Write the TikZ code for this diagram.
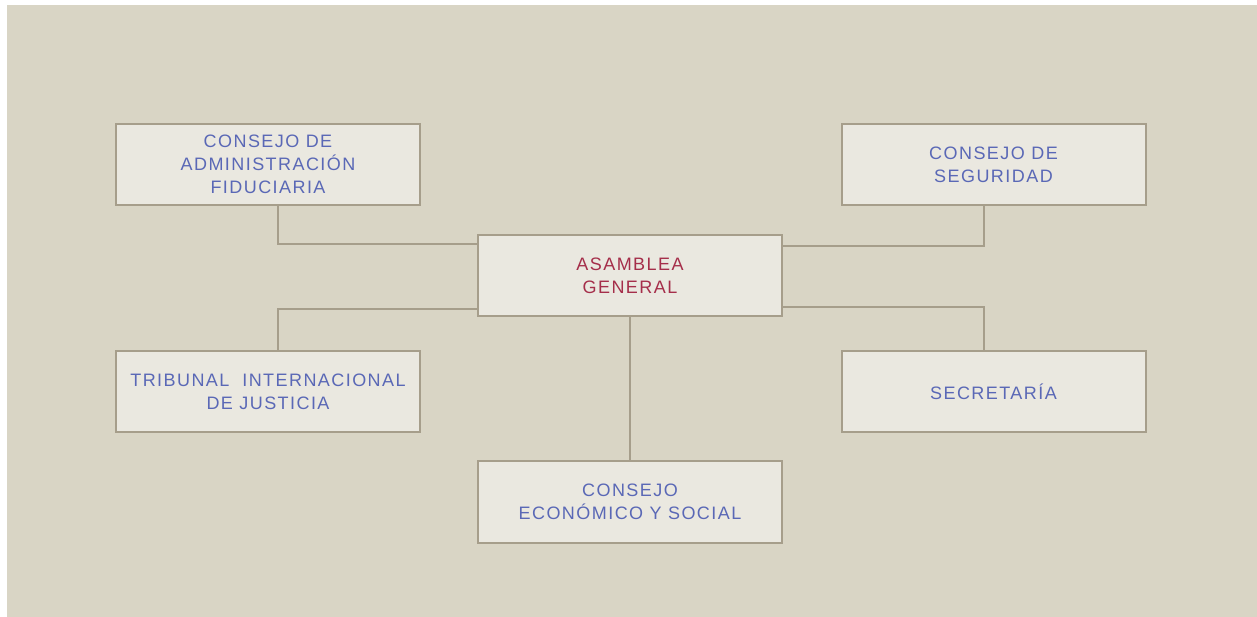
\documentclass[tikz,border=0pt]{standalone}
\usepackage{fontspec}
\newfontfamily\boxfont[LetterSpace=8]{Liberation Sans}
\usetikzlibrary{calc}
\definecolor{paper}{HTML}{D9D5C5}
\definecolor{boxfill}{HTML}{EAE8E0}
\definecolor{boxline}{HTML}{A69E8B}
\definecolor{orgblue}{HTML}{5A68B6}
\definecolor{orgred}{HTML}{A52E4A}
\begin{document}
\begin{tikzpicture}[x=0.75pt, y=-0.75pt]
        \tikzset{
            member/.style={
                    rectangle,
                    draw=boxline,
                    fill=boxfill,
                    line width=1.5pt,
                    minimum width=228pt,
                    minimum height=61pt,
                    align=center,
                    text=orgblue,
                    font=\boxfont\fontsize{13.5}{17.25}\selectfont,
                },
            head/.style={member, text=orgred},
            connection/.style={draw=boxline, line width=1.5pt},
        }
        \useasboundingbox (0, 0) rectangle (1257, 617);
        \fill[paper] (7, 5) rectangle (1257, 617);
        \node[member] (fidu) at (268, 164.5) {CONSEJO DE\\ADMINISTRACIÓN\\FIDUCIARIA};
        \node[member] (segu) at (993.5, 164.5) {CONSEJO DE\\SEGURIDAD};
        \node[head] (asam) at (630, 275.5) {ASAMBLEA\\GENERAL};
        \node[member] (trib) at (268, 391.5) {TRIBUNAL\ \ INTERNACIONAL\\DE JUSTICIA};
        \node[member] (secr) at (993.5, 391.5) {SECRETARÍA};
        \node[member] (econ) at (630, 502) {CONSEJO\\ECONÓMICO Y SOCIAL};
        \draw[connection] ($(fidu.south)+(10, 0)$) |- ($(asam.north west)+(0, 10)$);
        \draw[connection] ($(segu.south)+(-10, 0)$) |- ($(asam.north east)+(0, 12)$);
        \draw[connection] ($(trib.north)+(10, 0)$) |- ($(asam.south west)+(0, -8)$);
        \draw[connection] ($(secr.north)+(-10, 0)$) |- ($(asam.south east)+(0, -10)$);
        \draw[connection] (asam.south) -- (econ.north);
    \end{tikzpicture}
\end{document}
